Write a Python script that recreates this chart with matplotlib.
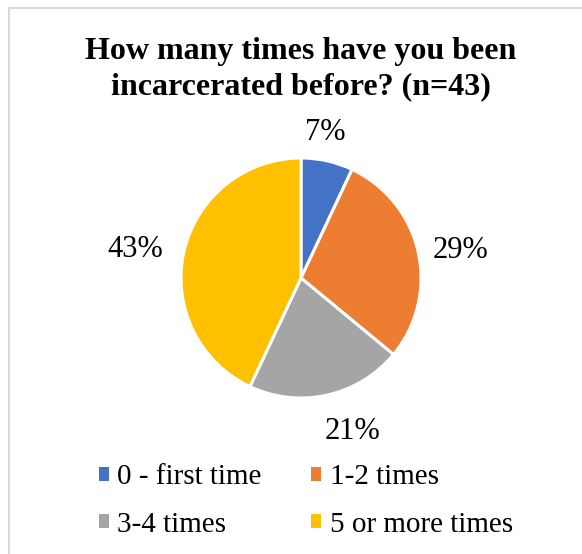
import numpy as np
import matplotlib
matplotlib.use("Agg")
import matplotlib.pyplot as plt
from matplotlib.patches import Rectangle

plt.rcParams['font.family'] = ['Liberation Serif', 'DejaVu Serif']

title = "How many times have you been\nincarcerated before? (n=43)"
categories = ["0 - first time", "1-2 times", "3-4 times", "5 or more times"]
percents = [7, 29, 21, 43]
colors = ["#4472C4", "#ED7D31", "#A5A5A5", "#FFC000"]

W, H = 582, 554
fig = plt.figure(figsize=(W / 100, H / 100), dpi=100)

# chart area border (light gray)
fig.patches.append(Rectangle((8.5 / W, -0.1), 1.2, 1.1 - 8.5 / H,
                             transform=fig.transFigure, fill=False,
                             edgecolor="#D9D9D9", linewidth=1.5))

# pie axes: center (301, 278) px, radius 120 px
cx, cy, r = 301, 278, 120
ax = fig.add_axes([(cx - r) / W, (H - cy - r) / H, 2 * r / W, 2 * r / H])
wedges, _ = ax.pie(
    percents, colors=colors, startangle=90, counterclock=False,
    wedgeprops=dict(edgecolor="white", linewidth=2.2))
ax.set_xlim(-1, 1)
ax.set_ylim(-1, 1)
ax.set_aspect("equal")

# "best fit" style data labels outside each wedge
label_radius = [1.23, 1.35, 1.35, 1.40]
angle_nudge = [3.0, -3.0, 6.0, 3.0]
for w, p, rad, nudge in zip(wedges, percents, label_radius, angle_nudge):
    mid = np.deg2rad((w.theta1 + w.theta2) / 2 + nudge)
    ax.text(rad * np.cos(mid), rad * np.sin(mid), f"{p}%", ha="center",
            va="center", fontsize=22, color="#000000", clip_on=False)

fig.text(cx / W, 1 - 69 / H, title, ha="center", va="center",
         fontsize=23, fontweight="bold", linespacing=1.3)

# legend laid out row by row
order = [0, 2, 1, 3]
handles = [Rectangle((0, 0), 1, 1, facecolor=colors[i], edgecolor="none") for i in order]
labels = [categories[i] for i in order]
fig.legend(handles, labels, loc="center", bbox_to_anchor=(306 / W, 1 - 501 / H),
           ncol=2, frameon=False, fontsize=21, handlelength=0.34, handleheight=0.34,
           handletextpad=0.3, columnspacing=1.7, labelspacing=0.72)

fig.savefig("out.png", dpi=100)
